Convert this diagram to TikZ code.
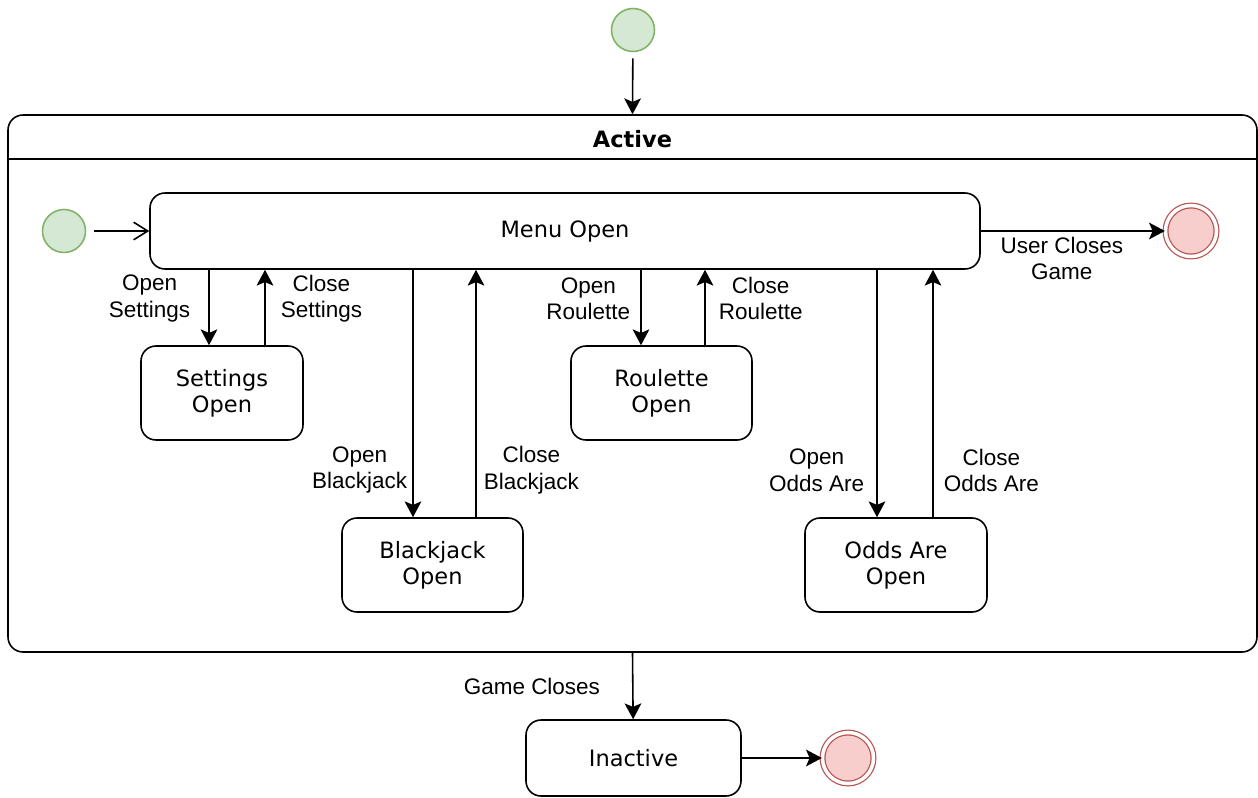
\documentclass[tikz,border=0pt]{standalone}
\usepackage{fontspec}
\usetikzlibrary{arrows.meta}
\definecolor{startgreen}{HTML}{D5E8D4}
\definecolor{startgreenline}{HTML}{82B366}
\definecolor{endred}{HTML}{F8CECC}
\definecolor{endredline}{HTML}{B85450}
\newfontfamily\statefont{DejaVu Sans}
\newfontfamily\labelfont{Liberation Sans}

\begin{document}
\begin{tikzpicture}[auto]

%
% Styles
%
\tikzstyle{state} = [rectangle,rounded corners=0.3cm,draw,line width=0.9pt,align=center,font=\statefont\fontsize{12.8}{15}\selectfont,minimum height=1.88cm]
\tikzstyle{start} = [circle,draw=startgreenline,fill=startgreen,line width=0.9pt,minimum size=0.86cm,inner sep=0]
\tikzstyle{final} = [circle,draw=endredline,fill=endred,line width=0.7pt,double=white,double distance=0.07cm,minimum size=1.02cm,inner sep=0]
\tikzstyle{trans} = [line width=0.9pt,-{Stealth[length=9pt,width=9.5pt,inset=2pt]}]
\tikzstyle{lbl} = [font=\labelfont\fontsize{12.8}{15}\selectfont,align=center,inner sep=0]

\useasboundingbox (0,0) rectangle (25.16,-15.96);

% container
\node[state,minimum width=24.98cm,minimum height=10.74cm] (active) at (12.65,-7.67) {};
\draw[line width=0.9pt] ([yshift=-0.9cm]active.north west) -- ([yshift=-0.9cm]active.north east);
\node[font=\statefont\bfseries\fontsize{12.8}{15}\selectfont] (activetitle) at (12.65,-2.78) {Active};

\node[start] (init1) at (12.66,-0.6) {};
\node[start] (init2) at (1.28,-4.62) {};
\node[final] (final1) at (23.82,-4.62) {};
\node[final] (final2) at (16.96,-15.16) {};

\node[state,minimum width=16.6cm,minimum height=1.52cm] (menu) at (11.3,-4.62) {Menu Open};
\node[state,minimum width=3.24cm] (settings) at ( 4.44,-7.86) {Settings\\Open};
\node[state,minimum width=3.62cm] (blackjack) at ( 8.65,-11.3) {Blackjack\\Open};
\node[state,minimum width=3.62cm] (roulette) at (13.23,-7.86) {Roulette\\Open};
\node[state,minimum width=3.64cm] (oddsare) at (17.92,-11.3) {Odds Are\\Open};
\node[state,minimum width=4.3cm,minimum height=1.52cm] (inactive) at (12.67,-15.16) {Inactive};

\draw[trans,shorten <=0.12cm] (init1) -- (active.north);
\draw[line width=0.9pt,shorten <=0.16cm,-{Straight Barb[length=8pt,width=10pt]}] (init2) -- (menu.west);
\draw[trans] (menu.east) -- (final1) node[lbl,pos=0.44,below=0.1cm] {User Closes\\Game};

\draw[trans] ([xshift=-0.26cm]settings.north |- menu.south) -- ([xshift=-0.26cm]settings.north) node[lbl,pos=0.38,left=0.36cm] {Open\\Settings};
\draw[trans] ([xshift=0.86cm]settings.north) -- ([xshift=0.86cm]settings.north |- menu.south) node[lbl,pos=0.62,right=0.3cm] {Close\\Settings};

\draw[trans] ([xshift=-0.39cm]blackjack.north |- menu.south) -- ([xshift=-0.39cm]blackjack.north) node[lbl,pos=0.81,left=0.1cm] {Open\\Blackjack};
\draw[trans] ([xshift=0.87cm]blackjack.north) -- ([xshift=0.87cm]blackjack.north |- menu.south) node[lbl,pos=0.19,right=0.14cm] {Close\\Blackjack};

\draw[trans] ([xshift=-0.41cm]roulette.north |- menu.south) -- ([xshift=-0.41cm]roulette.north) node[lbl,pos=0.38,left=0.2cm] {Open\\Roulette};
\draw[trans] ([xshift=0.87cm]roulette.north) -- ([xshift=0.87cm]roulette.north |- menu.south) node[lbl,pos=0.62,right=0.26cm] {Close\\Roulette};

\draw[trans] ([xshift=-0.38cm]oddsare.north |- menu.south) -- ([xshift=-0.38cm]oddsare.north) node[lbl,pos=0.81,left=0.24cm] {Open\\Odds Are};
\draw[trans] ([xshift=0.74cm]oddsare.north) -- ([xshift=0.74cm]oddsare.north |- menu.south) node[lbl,pos=0.19,right=0.2cm] {Close\\Odds Are};

\draw[trans] (active.south) -- (inactive) node[lbl,midway,left=0.64cm] {Game Closes};
\draw[trans] (inactive) -- (final2);

\end{tikzpicture}
\end{document}
